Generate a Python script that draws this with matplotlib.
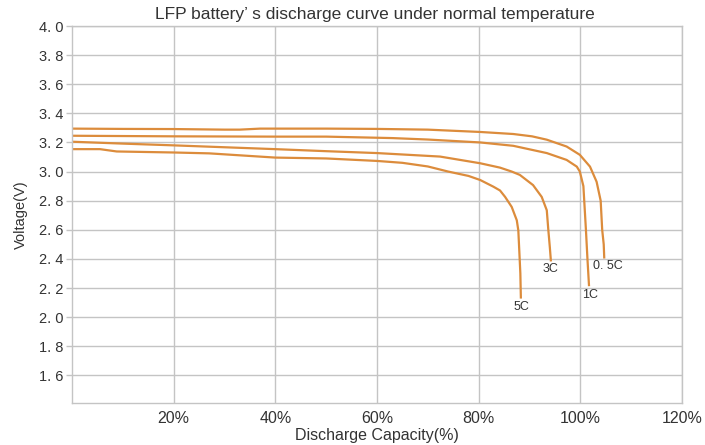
import matplotlib
matplotlib.use("Agg")
import matplotlib.pyplot as plt

# ---- data ----
x_05c = [0, 10, 20, 30, 33, 37, 50, 60, 70, 80.3, 86.8, 90.5, 93.4, 97.3, 99.9, 101.9, 103.2, 104.0, 104.3, 104.6, 104.7]
v_05c = [3.295, 3.293, 3.292, 3.288, 3.288, 3.295, 3.295, 3.293, 3.288, 3.272, 3.258, 3.242, 3.219, 3.172, 3.115, 3.034, 2.93, 2.80, 2.60, 2.50, 2.41]

x_1c = [0, 20, 40, 50, 63, 70, 80.3, 86.8, 93.4, 97.3, 99.3, 99.9, 100.6, 101.1, 101.4, 101.7]
v_1c = [3.246, 3.242, 3.240, 3.240, 3.230, 3.220, 3.200, 3.177, 3.127, 3.080, 3.034, 3.000, 2.900, 2.600, 2.400, 2.220]

x_3c = [0, 10, 20, 30, 40, 50, 60, 72.4, 80.3, 84.2, 86.5, 88.1, 90.7, 92.4, 93.4, 93.7, 94.0, 94.2]
v_3c = [3.205, 3.192, 3.180, 3.167, 3.154, 3.140, 3.127, 3.103, 3.057, 3.027, 3.000, 2.977, 2.907, 2.826, 2.734, 2.600, 2.480, 2.390]

x_5c = [0, 5.5, 8.8, 20, 27, 40, 50, 60, 65, 70, 74, 78, 80.3, 82.9, 84.2, 85.2, 86.5, 87.5, 87.8, 88.0, 88.2, 88.3]
v_5c = [3.154, 3.154, 3.138, 3.131, 3.125, 3.096, 3.090, 3.073, 3.060, 3.035, 3.000, 2.970, 2.942, 2.896, 2.870, 2.826, 2.757, 2.665, 2.596, 2.450, 2.300, 2.135]

series = [("0. 5C", x_05c, v_05c, (105.5, 2.35)),
          ("1C", x_1c, v_1c, (101.9, 2.15)),
          ("3C", x_3c, v_3c, (94.2, 2.33)),
          ("5C", x_5c, v_5c, (88.5, 2.07))]

x_ticks = [20, 40, 60, 80, 100, 120]
x_tick_labels = ["20%", "40%", "60%", "80%", "100%", "120%"]
y_ticks = [1.6, 1.8, 2.0, 2.2, 2.4, 2.6, 2.8, 3.0, 3.2, 3.4, 3.6, 3.8, 4.0]
y_tick_labels = ["1. 6", "1. 8", "2. 0", "2. 2", "2. 4", "2. 6", "2. 8", "3. 0",
                 "3. 2", "3. 4", "3. 6", "3. 8", "4. 0"]

title = "LFP battery\u2019 s discharge curve under normal temperature"

font = ["Liberation Sans", "DejaVu Sans"]
line_color = "#DC8C3C"
grid_color = "#C4C4C4"
text_color = "#333333"

fig = plt.figure(figsize=(7.05, 4.45), dpi=100)
ax = fig.add_axes([72 / 705, 1 - 403 / 445, (682 - 72) / 705, (403 - 26) / 445])

for name, xs, vs, (lx, ly) in series:
    ax.plot(xs, vs, color=line_color, lw=1.6, solid_joinstyle="round")
    ax.text(lx, ly, name, ha="center", va="center", fontsize=9,
            color=text_color, family=font)

ax.set_xlim(0, 120)
ax.set_ylim(1.41, 4.0)
ax.set_xticks(x_ticks)
ax.set_xticklabels(x_tick_labels, family=font, fontsize=11.5, color=text_color)
ax.set_yticks(y_ticks)
ax.set_yticklabels(y_tick_labels, family=font, fontsize=10.5, color=text_color)
ax.tick_params(axis="x", length=0, pad=6)
ax.tick_params(axis="y", length=4, width=1.0, color=grid_color, pad=2)
ax.grid(True, color=grid_color, lw=1.0)
ax.set_axisbelow(True)
for s in ax.spines.values():
    s.set_color(grid_color)
    s.set_linewidth(1.0)

ax.set_xlabel("Discharge Capacity(%)", family=font, fontsize=11.5, color=text_color, labelpad=1)
ax.set_ylabel("Voltage(V)", family=font, fontsize=10.5, color=text_color, labelpad=8)
fig.text(375 / 705, 1 - 15 / 445, title, ha="center", va="center",
         family=font, fontsize=12.5, color=text_color)

fig.savefig("out.png", dpi=100)
